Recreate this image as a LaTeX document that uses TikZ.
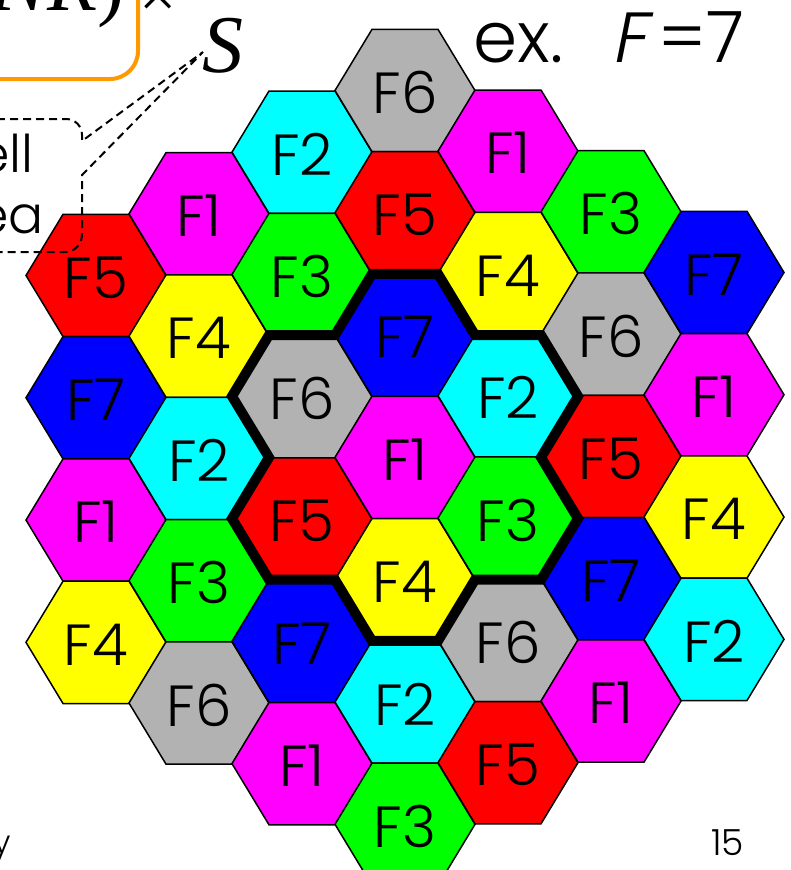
\documentclass[tikz,border=0pt]{standalone}
\usepackage{fontspec}
\setmainfont{Poppins}[UprightFont={* Light}]
\newfontfamily\tnr{Liberation Serif}
\newfontfamily\slantsans{Poppins}[UprightFont={* Light},FakeSlant=0.2]
\definecolor{hexF1}{RGB}{255,0,255}
\definecolor{hexF2}{RGB}{0,255,255}
\definecolor{hexF3}{RGB}{0,255,0}
\definecolor{hexF4}{RGB}{255,255,0}
\definecolor{hexF5}{RGB}{255,0,0}
\definecolor{hexF6}{RGB}{178,178,178}
\definecolor{hexF7}{RGB}{0,0,255}
\definecolor{boxorange}{RGB}{255,153,0}
\tikzset{
  hexcell/.style={draw=black, line width=1.5pt, line join=miter},
  hexlabel/.style={inner sep=0pt, font=\fontsize{58}{60}\selectfont},
  cluster/.style={draw=black, line width=10pt, line join=miter},
  calloutline/.style={draw=black, line width=2pt, dash pattern=on 8pt off 5pt},
  orangebox/.style={draw=boxorange, line width=4pt, rounded corners=28pt},
  plaintext/.style={inner sep=0pt},
}
\begin{document}
\begin{tikzpicture}[x=1pt,y=-1pt]
\useasboundingbox (0,0) rectangle (790,870);
\clip (0,0) rectangle (790,870);
\fill[white] (0,0) rectangle (790,870);
% hexagonal cells
\foreach \k/\cells in {-3/{5,7,1,4},-2/{1,4,2,3,6},-1/{2,3,6,5,7,1},0/{6,5,7,1,4,2,3},1/{1,4,2,3,6,5},2/{3,6,5,7,1},3/{7,1,4,2}}{
  \foreach \f [count=\j from 0] in \cells {
    \pgfmathsetmacro{\cx}{405+103*\k}
    \pgfmathsetmacro{\cy}{90.5+61.15*abs(\k)+122.3*\j-0.5*\k}
    \draw[hexcell, fill=hexF\f] (\cx+70,\cy) -- (\cx+33,\cy-61.15) -- (\cx-33,\cy-61.15) -- (\cx-70,\cy) -- (\cx-33,\cy+61.15) -- (\cx+33,\cy+61.15) -- cycle;
    \node[hexlabel] (cell\k\j) at (\cx,\cy+2) {F\f};
  }
}
% thick cluster outline
\begin{scope}[shift={(405,457.4)}]
\draw[cluster] (-33,-183.45) -- (33,-183.45) -- (70,-122.3) -- (136,-122.3) -- (173,-61.15) -- (136,0) -- (173,61.15) -- (136,122.3) -- (70,122.3) -- (33,183.45) -- (-33,183.45) -- (-70,122.3) -- (-136,122.3) -- (-173,61.15) -- (-136,0) -- (-173,-61.15) -- (-136,-122.3) -- (-70,-122.3) -- cycle;
\end{scope}
% dashed callout
\coordinate (tip) at (203,52);
\draw[calloutline] (-120,119) -- (66,119) .. controls (75,119) and (82,126) .. (82,135) -- (82,141) -- (tip) -- (82,175) -- (82,234) .. controls (82,244) and (75,252) .. (65,252) -- (-120,252);
\node[plaintext, anchor=base east, font=\fontsize{52}{54}\selectfont] (cellword) at (34,172) {Cell};
\node[plaintext, anchor=base east, font=\fontsize{52}{54}\selectfont] (areaword) at (44,233) {area};
% orange formula box
\draw[orangebox] (-200,-100) rectangle (138,79);
\node[plaintext, anchor=base east, font=\tnr\fontsize{82}{84}\selectfont] (formula) at (125,10) {\itshape NR\/\upshape)};
\node[plaintext, font=\tnr\fontsize{66}{68}\selectfont] (timessign) at (158,0) {×};
\node[plaintext, anchor=base west, font=\tnr\itshape\fontsize{82}{84}\selectfont] (areaS) at (202,72) {S};
% example label
\node[plaintext, anchor=base west, font=\fontsize{71}{73}\selectfont] (exword) at (473,62) {ex.};
\node[plaintext, anchor=base west, font=\slantsans\fontsize{71}{73}\selectfont] (exF) at (611,62) {F};
\node[plaintext, anchor=base west, font=\fontsize{71}{73}\selectfont] (exeq) at (658,62) {=};
\node[plaintext, anchor=base west, font=\fontsize{71}{73}\selectfont] (exseven) at (706,62) {7};
% footer
\node[plaintext, anchor=base east, font=\fontsize{32}{34}\selectfont] (footer) at (11,853) {y};
\node[plaintext, anchor=base west, font=\fontsize{36}{38}\selectfont] (pagenum) at (711,855) {15};
\end{tikzpicture}
\end{document}
